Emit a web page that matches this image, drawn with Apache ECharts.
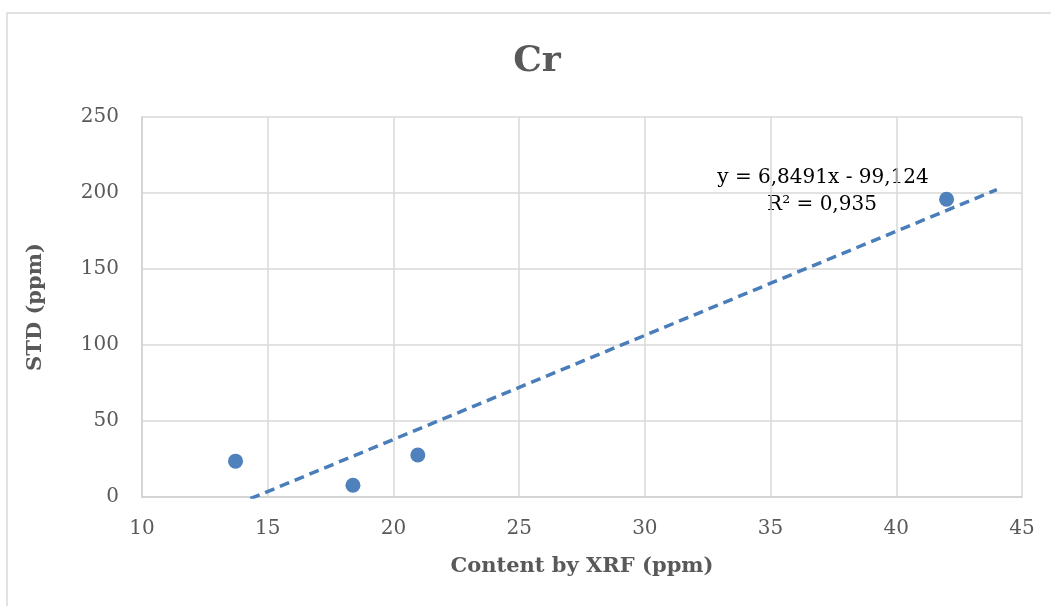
<!DOCTYPE html>
<html>
<head>
<meta charset="utf-8">
<script src="https://cdn.jsdelivr.net/npm/echarts@6/dist/echarts.min.js"></script>
<style>html,body{margin:0;padding:0;background:#fff}#c{width:1051px;height:606px}</style>
</head>
<body>
<div id="c"></div>
<script>
// Data
const chartTitle = 'Cr';
const xName = 'Content by XRF (ppm)';
const yName = 'STD (ppm)';
const xValues = [13.72, 18.39, 20.97, 42.0];
const yValues = [23.6, 7.7, 27.6, 195.9];
const trendSlope = 6.8491;
const trendIntercept = -99.124;
const trendXRange = [13.72, 44.0];
const equationText = 'y = 6,8491x - 99,124';
const r2Text = 'R² = 0,935';

const points = xValues.map((x, i) => [x, yValues[i]]);
const trend = trendXRange.map(x => [x, trendSlope * x + trendIntercept]);

const serif = '"DejaVu Serif", "Liberation Serif", serif';
const chart = echarts.init(document.getElementById('c'));
chart.setOption({
  animation: false,
  backgroundColor: '#fff',
  grid: { left: 142, right: 29, top: 117, bottom: 109 },
  xAxis: {
    type: 'value', min: 10, max: 45, interval: 5,
    name: xName, nameLocation: 'middle', nameGap: 59,
    nameTextStyle: { fontFamily: serif, fontWeight: 'bold', fontSize: 21, color: '#595959' },
    axisLine: { show: true, lineStyle: { color: '#d0d0d0', width: 1.5 } },
    axisTick: { show: false },
    axisLabel: { fontFamily: serif, fontSize: 20, color: '#595959', margin: 22 },
    splitLine: { show: true, lineStyle: { color: '#d9d9d9', width: 1.5 } }
  },
  yAxis: {
    type: 'value', min: 0, max: 250, interval: 50,
    name: yName, nameLocation: 'middle', nameGap: 96,
    nameTextStyle: { fontFamily: serif, fontWeight: 'bold', fontSize: 21, color: '#595959' },
    axisLine: { show: true, lineStyle: { color: '#d0d0d0', width: 1.5 } },
    axisTick: { show: false },
    axisLabel: { fontFamily: serif, fontSize: 20, color: '#595959', margin: 23 },
    splitLine: { show: true, lineStyle: { color: '#d9d9d9', width: 1.5 } }
  },
  series: [
    {
      type: 'line', data: trend, clip: true, symbol: 'none', silent: true,
      lineStyle: { color: '#4a7ebb', width: 3.5, type: [10, 6], cap: 'butt' },
      z: 2
    },
    {
      type: 'scatter', data: points, symbol: 'circle', symbolSize: 15,
      itemStyle: { color: '#4f81bd', opacity: 1 },
      z: 3
    }
  ],
  graphic: [
    { type: 'rect', shape: { x: 7, y: 13, width: 1100, height: 700 },
      style: { fill: 'none', stroke: '#d9d9d9', lineWidth: 1.5 }, silent: true },
    { type: 'text', x: 537, y: 62,
      style: { text: chartTitle, fontFamily: serif, fontWeight: 'bold', fontSize: 36, fill: '#595959', textAlign: 'center', textVerticalAlign: 'middle' } },
    { type: 'text', x: 823, y: 178,
      style: { text: equationText, fontFamily: serif, fontSize: 20, fill: '#000', textAlign: 'center', textVerticalAlign: 'middle' } },
    { type: 'text', x: 822, y: 205,
      style: { text: r2Text, fontFamily: serif, fontSize: 20, fill: '#000', textAlign: 'center', textVerticalAlign: 'middle' } }
  ]
});
</script>
</body>
</html>
